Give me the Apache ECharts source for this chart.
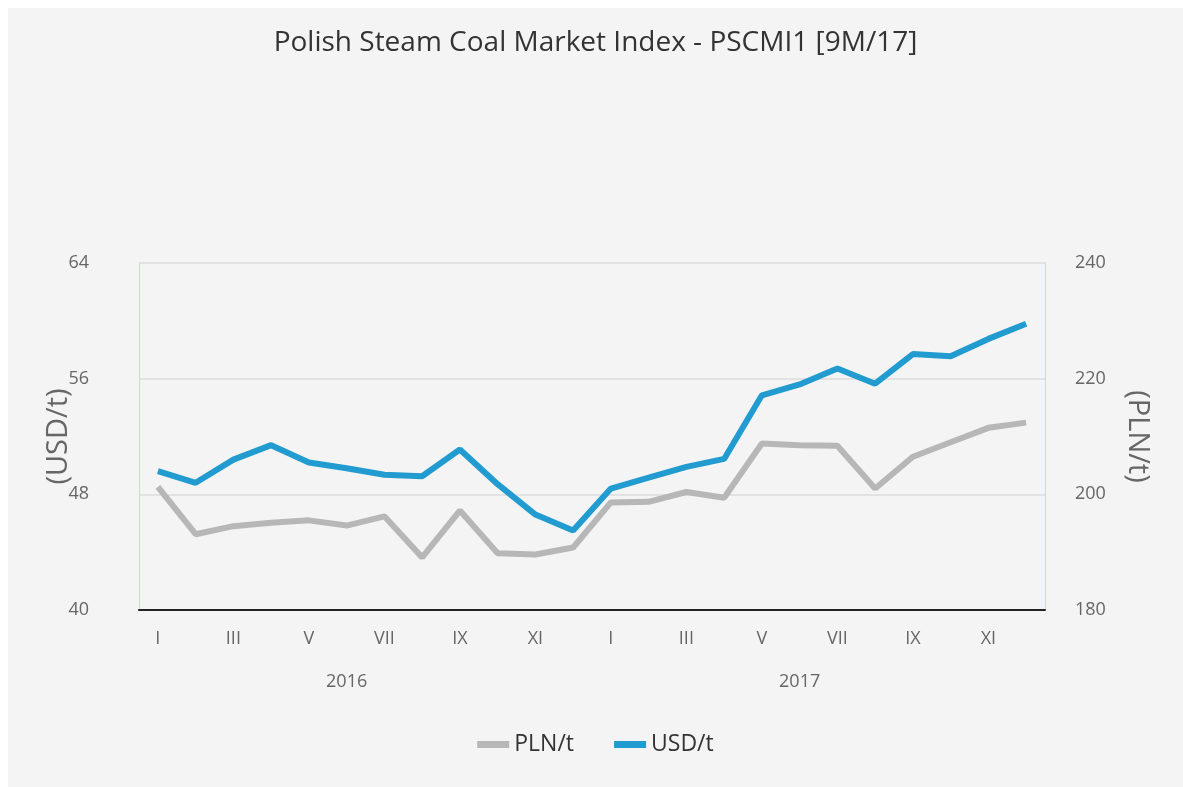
<!DOCTYPE html>
<html>
<head>
<meta charset="utf-8">
<script src="https://cdn.jsdelivr.net/npm/echarts@6/dist/echarts.min.js"></script>
<style>
  html, body { margin: 0; padding: 0; background: #ffffff; }
  #chart { position: absolute; left: 8px; top: 8px; width: 1175px; height: 779px; background: #f4f4f4; }
</style>
</head>
<body>
<div id="chart"></div>
<script>
// months I..XII for 2016 and 2017
var months = ["I", "II", "III", "IV", "V", "VI", "VII", "VIII", "IX", "X", "XI", "XII",
              "I", "II", "III", "IV", "V", "VI", "VII", "VIII", "IX", "X", "XI", "XII"];
var years = ["2016", "2017"];
// PSCMI1 in USD/t (left axis)
var usd = [49.6, 48.8, 50.4, 51.4, 50.2, 49.8, 49.35, 49.25, 51.1, 48.7, 46.6, 45.5,
           48.4, 49.15, 49.9, 50.45, 54.85, 55.6, 56.7, 55.65, 57.7, 57.55, 58.75, 59.8];
// PSCMI1 in PLN/t (right axis)
var pln = [201.3, 193.1, 194.5, 195.1, 195.5, 194.6, 196.2, 189.1, 197.2, 189.8, 189.6, 190.8,
           198.6, 198.7, 200.4, 199.4, 208.8, 208.5, 208.4, 201.0, 206.5, 209.0, 211.5, 212.4];

var chart = echarts.init(document.getElementById("chart"));
var font = "Open Sans";

var option = {
  backgroundColor: "#f4f4f4",
  title: {
    text: "Polish Steam Coal Market Index - PSCMI1 [9M/17]",
    left: "center",
    top: 16,
    textStyle: { fontFamily: font, fontSize: 28, fontWeight: "normal", color: "#333333" }
  },
  legend: {
    bottom: 26,
    left: "center",
    icon: "rect",
    itemWidth: 32,
    itemHeight: 7,
    itemGap: 40,
    textStyle: { fontFamily: font, fontSize: 23, color: "#333333" },
    data: ["PLN/t", "USD/t"]
  },
  grid: { left: 131, right: 138, top: 255, height: 347 },
  xAxis: [
    {
      type: "category",
      data: months,
      boundaryGap: true,
      axisLine: { lineStyle: { color: "#222222", width: 2 } },
      axisTick: { interval: 1, length: 18, lineStyle: { color: "#c8d5ee" }, alignWithLabel: true },
      axisLabel: { interval: 1, margin: 20, fontFamily: font, fontSize: 18, color: "#666666" },
      splitLine: { show: false }
    },
    {
      // year labels, placed under month VI
      type: "category",
      data: months,
      position: "bottom",
      axisLine: { show: false },
      axisTick: { show: false },
      axisLabel: {
        margin: 63,
        fontFamily: font, fontSize: 18, color: "#666666",
        interval: function (i) { return i === 5 || i === 17; },
        formatter: function (v, i) { return i === 5 ? years[0] : years[1]; }
      }
    }
  ],
  yAxis: [
    {
      type: "value",
      min: 40, max: 64, interval: 8,
      name: "(USD/t)",
      nameLocation: "middle",
      nameGap: 66,
      nameMoveOverlap: false,
      nameTextStyle: { fontFamily: font, fontSize: 29, color: "#666666" },
      axisLine: { show: true, lineStyle: { color: "#c8d5ee" } },
      axisTick: { show: false },
      axisLabel: { margin: 50, fontFamily: font, fontSize: 18, color: "#666666" },
      splitLine: { lineStyle: { color: "#e2e2e2", width: 2 } }
    },
    {
      type: "value",
      min: 180, max: 240, interval: 20,
      name: "(PLN/t)",
      nameLocation: "middle",
      nameRotate: -90,
      nameGap: 78,
      nameMoveOverlap: false,
      nameTextStyle: { fontFamily: font, fontSize: 29, color: "#666666" },
      axisLine: { show: true, lineStyle: { color: "#c8d5ee" } },
      axisTick: { show: false },
      axisLabel: { margin: 30, fontFamily: font, fontSize: 18, color: "#666666" },
      splitLine: { show: false }
    }
  ],
  series: [
    {
      name: "PLN/t",
      type: "line",
      yAxisIndex: 1,
      data: pln,
      symbol: "none",
      lineStyle: { width: 6, color: "#b7b7b7" },
      itemStyle: { color: "#b7b7b7" }
    },
    {
      name: "USD/t",
      type: "line",
      yAxisIndex: 0,
      data: usd,
      symbol: "none",
      lineStyle: { width: 6, color: "#229cd0" },
      itemStyle: { color: "#229cd0" }
    }
  ]
};

chart.setOption(option);
</script>
</body>
</html>
